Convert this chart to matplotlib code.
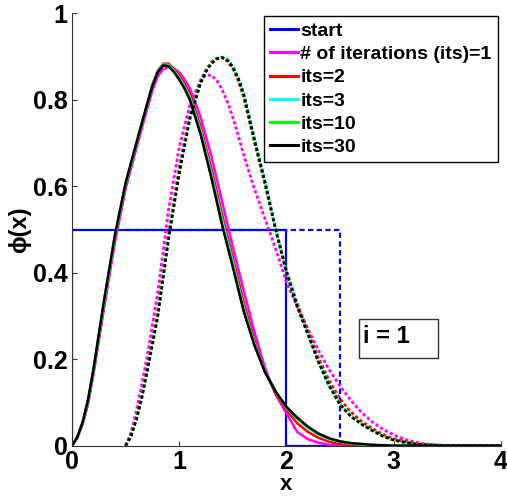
import numpy as np
import matplotlib
matplotlib.use("Agg")
import matplotlib.pyplot as plt
from matplotlib.patches import Rectangle

plt.rcParams['font.family'] = ['Liberation Sans', 'DejaVu Sans']
plt.rcParams['font.weight'] = 'bold'

# ---------------- data ----------------
x_solid = [0, 0.05, 0.1, 0.15, 0.2, 0.3, 0.4, 0.5, 0.6, 0.7, 0.75, 0.8, 0.85, 0.9, 0.95,
           1.0, 1.05, 1.1, 1.2, 1.3, 1.4, 1.5, 1.6, 1.7, 1.8, 1.9, 2.0, 2.1, 2.2, 2.3,
           2.4, 2.5, 2.6, 2.7, 2.8, 2.9, 3.0, 3.5, 4.0]
x_dashed = [0.5, 0.55, 0.6, 0.65, 0.7, 0.8, 0.9, 1.0, 1.1, 1.2, 1.25, 1.3, 1.35, 1.4, 1.45,
            1.5, 1.55, 1.6, 1.7, 1.8, 1.9, 2.0, 2.1, 2.2, 2.3, 2.4, 2.5, 2.6, 2.7, 2.8,
            2.9, 3.0, 3.1, 3.2, 3.3, 3.4, 3.5, 4.0]

start_solid_x = [0, 0, 2, 2, 4]
start_solid_y = [0, 0.5, 0.5, 0, 0]
start_dashed_x = [0.5, 2.5, 2.5, 4]
start_dashed_y = [0.5, 0.5, 0, 0]

its1_solid = [0, .018, .050, .097, .165, .320, .470, .594, .688, .778, .822, .855, .871, .876, .872,
              .864, .848, .826, .760, .670, .565, .460, .360, .265, .180, .118, .075, .032, .015, .007,
              .002, 0, 0, 0, 0, 0, 0, 0, 0]
its2_solid = [0, .019, .052, .101, .170, .327, .479, .601, .695, .788, .835, .868, .884, .884, .872,
              .857, .838, .814, .738, .642, .535, .435, .333, .245, .173, .120, .083, .052, .032, .018,
              .009, .004, .002, 0, 0, 0, 0, 0, 0]
its3_solid = [0, .020, .054, .104, .173, .332, .483, .604, .698, .789, .834, .866, .882, .881, .868,
              .852, .831, .806, .728, .630, .522, .424, .320, .238, .171, .125, .088, .062, .041, .026,
              .015, .009, .005, .003, .001, 0, 0, 0, 0]
its10_solid = [0, .020, .055, .106, .176, .336, .486, .607, .700, .790, .834, .865, .881, .879, .866,
               .849, .828, .802, .722, .622, .514, .417, .315, .235, .170, .125, .089, .064, .043, .027,
               .016, .010, .006, .004, .002, .001, 0, 0, 0]
its30_solid = [0, .020, .055, .107, .177, .338, .487, .608, .700, .790, .833, .864, .880, .878, .865,
               .847, .826, .800, .720, .620, .510, .413, .312, .233, .170, .125, .090, .065, .044, .028,
               .017, .010, .006, .004, .002, .001, 0, 0, 0]

its1_dashed = [0, .030, .080, .140, .205, .355, .545, .690, .790, .846, .857, .857, .845, .824, .795,
               .760, .718, .674, .595, .525, .455, .378, .322, .270, .220, .175, .138, .105, .077, .055,
               .038, .025, .015, .008, .004, .002, .001, 0]
its2_dashed = [0, .024, .065, .117, .178, .310, .490, .645, .765, .845, .870, .888, .896, .898, .890,
               .872, .845, .807, .703, .604, .500, .405, .330, .265, .202, .150, .108, .078, .056, .040,
               .026, .016, .010, .005, .002, .001, 0, 0]
its3_dashed = [0, .023, .062, .112, .172, .303, .482, .636, .760, .842, .868, .886, .897, .899, .894,
               .877, .851, .815, .710, .611, .500, .402, .324, .260, .195, .140, .097, .070, .051, .036,
               .023, .014, .008, .004, .002, .001, 0, 0]
its10_dashed = [0, .022, .061, .111, .171, .301, .480, .633, .758, .840, .867, .885, .896, .899, .893,
                .876, .850, .814, .709, .610, .499, .401, .323, .258, .193, .138, .095, .068, .050, .035,
                .022, .013, .008, .004, .002, .001, 0, 0]
its30_dashed = [0, .022, .060, .110, .170, .300, .478, .630, .758, .840, .866, .884, .895, .898, .892,
                .876, .850, .814, .710, .610, .500, .402, .322, .258, .193, .138, .095, .068, .050, .035,
                .022, .013, .008, .004, .002, .001, 0, 0]

labels = ['# of iterations (its)=1', 'its=2', 'its=3', 'its=10', 'its=30']
colors = ['#ff00ff', '#ff0000', '#00ffff', '#00ff00', '#000000']
solid_series = [its1_solid, its2_solid, its3_solid, its10_solid, its30_solid]
dashed_series = [its1_dashed, its2_dashed, its3_dashed, its10_dashed, its30_dashed]

xticks = [0, 1, 2, 3, 4]
yticks = [0, 0.2, 0.4, 0.6, 0.8, 1]
ytick_labels = ['0', '0.2', '0.4', '0.6', '0.8', '1']

# ---------------- figure ----------------
fig = plt.figure(figsize=(5.07, 4.96), dpi=100)
ax = fig.add_axes([0.142, 0.1014, 0.846, 0.8714])

lw_solid = 1.8
lw_dash = 2.0
dash = (0, (1.15, 0.85))
ax.plot(start_solid_x, start_solid_y, color='#0000ff', lw=1.6, label='start')
ax.plot(start_dashed_x, start_dashed_y, color='#0000ff', lw=1.6, linestyle=(0, (2.4, 1.5)))
for ys, yd, c, lab in zip(solid_series, dashed_series, colors, labels):
    ax.plot(x_solid, ys, color=c, lw=lw_solid, label=lab)
    ax.plot(x_dashed, yd, color=c, lw=lw_dash, linestyle=dash)

ax.set_xlim(0, 4)
ax.set_ylim(0, 1)
ax.set_xticks(xticks)
ax.set_xticklabels([str(t) for t in xticks])
ax.set_yticks(yticks)
ax.set_yticklabels(ytick_labels)
ax.tick_params(direction='in', length=3.5, width=0.8, labelsize=18, pad=3, color='#333333')
for lab in ax.get_xticklabels() + ax.get_yticklabels():
    lab.set_fontweight('bold')
for s in ['top', 'right']:
    ax.spines[s].set_visible(False)
for s in ['left', 'bottom']:
    ax.spines[s].set_linewidth(0.8)
    ax.spines[s].set_color('#333333')

ax.set_xlabel('x', fontsize=16, fontweight='bold')
ax.xaxis.set_label_coords(0.5, -0.065)
ax.set_ylabel('ϕ(x)', fontsize=17, fontweight='bold')
ax.yaxis.set_label_coords(-0.096, 0.5)

leg = ax.legend(loc='upper right', bbox_to_anchor=(0.993, 0.994), fontsize=14.0,
                frameon=True, fancybox=False, edgecolor='black', framealpha=1,
                handlelength=1.4, handletextpad=0.15, labelspacing=0.29,
                borderpad=0.32, borderaxespad=0)
leg.get_frame().set_linewidth(1.0)
for t in leg.get_texts():
    t.set_fontweight('bold')
for h in leg.get_lines():
    h.set_linewidth(2.2)

box = Rectangle((0.669, 0.203), 0.184, 0.090, transform=ax.transAxes,
                facecolor='white', edgecolor='#333333', lw=1.0, zorder=5)
ax.add_patch(box)
ax.text(0.678, 0.2527, 'i = 1', transform=ax.transAxes, fontsize=17,
        fontweight='bold', ha='left', va='center', zorder=6)

fig.savefig('out.png', dpi=100)
